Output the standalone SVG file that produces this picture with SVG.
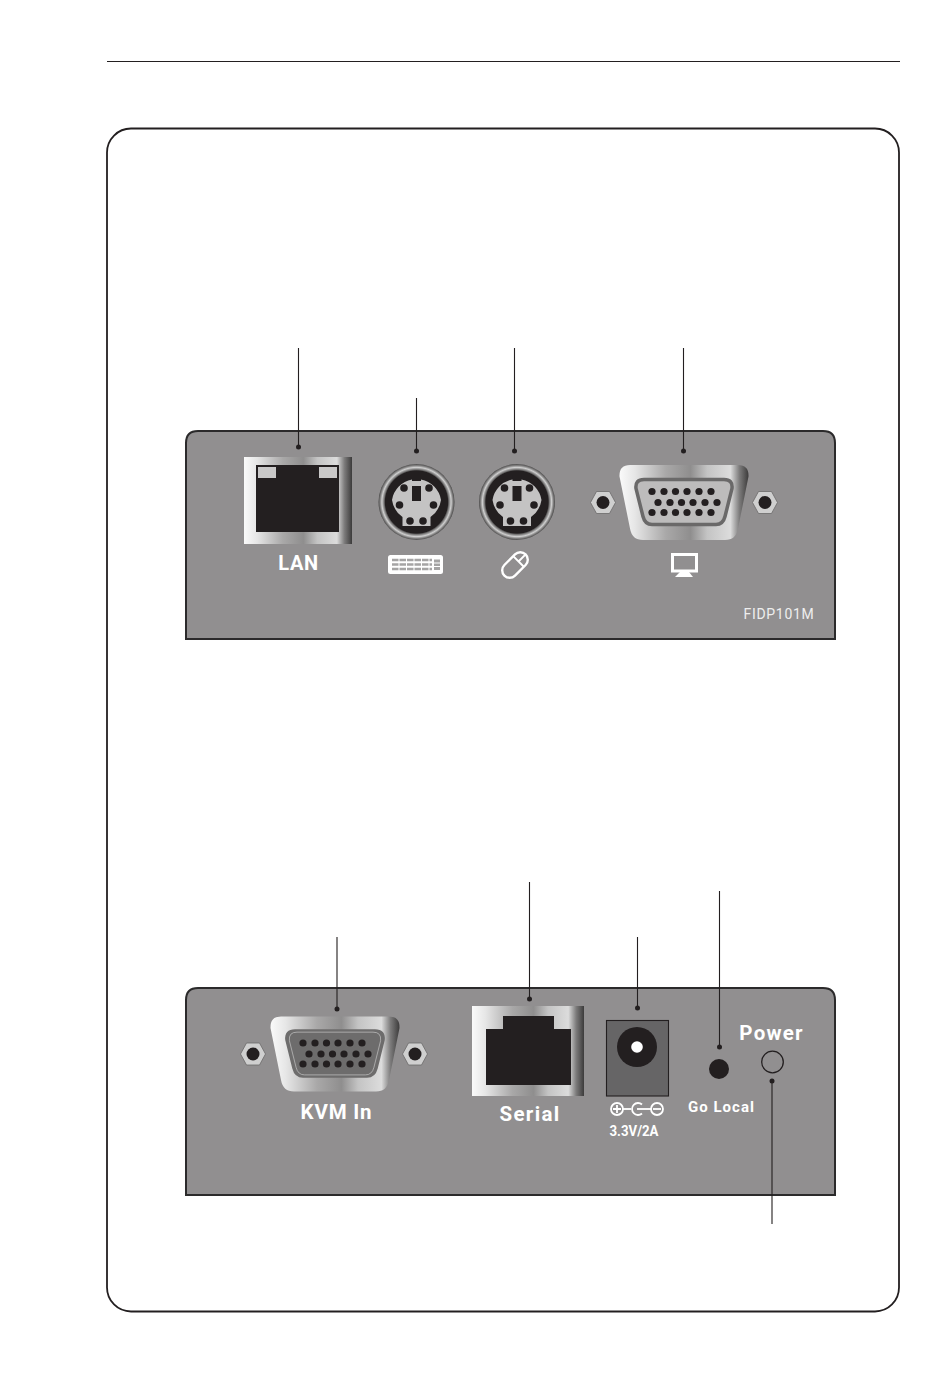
<svg xmlns="http://www.w3.org/2000/svg" xmlns:xlink="http://www.w3.org/1999/xlink" width="950" height="1393" viewBox="0 0 950 1393">
<style>
.panel{fill:#918f90;stroke:#2b2a2b;stroke-width:2}
.lead{stroke:#231f20;stroke-width:1.1;fill:none}
.dot{fill:#231f20}
.blk{fill:#231f20}
.lbl{font-family:"Roboto","Liberation Sans",sans-serif;font-weight:700;fill:#fff;text-anchor:middle}
.ico{fill:none;stroke:#fff}
</style>
<defs>
<linearGradient id="metal" x1="0" x2="1" y1="0" y2="0">
<stop offset="0" stop-color="#fafafa"/><stop offset=".12" stop-color="#e6e6e6"/><stop offset=".36" stop-color="#a9a8a8"/><stop offset=".55" stop-color="#8f8e8e"/><stop offset=".68" stop-color="#c4c4c4"/><stop offset=".86" stop-color="#dcdcdc"/><stop offset=".93" stop-color="#7c7b7b"/><stop offset="1" stop-color="#3c3b3b"/>
</linearGradient>
<radialGradient id="ring" cx=".5" cy=".5" r=".5">
<stop offset=".82" stop-color="#231f20"/><stop offset=".85" stop-color="#6e6d6d"/><stop offset=".91" stop-color="#cfcfcf"/><stop offset=".96" stop-color="#7f7e7e"/><stop offset="1" stop-color="#4a4949"/>
</radialGradient>
<g id="screw">
<polygon points="-12.5,0 -6.5,-11 6.5,-11 12.5,0 6.5,11 -6.5,11" fill="#cfcfcf" stroke="#6b6a6a" stroke-width=".8"/>
<circle r="6.5" fill="#231f20"/>
</g>
<g id="pins" fill="#231f20">
<circle cx="-32" cy="-11" r="3.6"/><circle cx="-20" cy="-11" r="3.6"/><circle cx="-8.500" cy="-11" r="3.6"/><circle cx="3" cy="-11" r="3.6"/><circle cx="15" cy="-11" r="3.6"/><circle cx="27" cy="-11" r="3.6"/>
<circle cx="-26" cy="0" r="3.6"/><circle cx="-14" cy="0" r="3.6"/><circle cx="-2.500" cy="0" r="3.6"/><circle cx="9" cy="0" r="3.6"/><circle cx="21" cy="0" r="3.6"/><circle cx="33" cy="0" r="3.6"/>
<circle cx="-32" cy="10" r="3.6"/><circle cx="-20" cy="10" r="3.6"/><circle cx="-8.500" cy="10" r="3.6"/><circle cx="3" cy="10" r="3.6"/><circle cx="15" cy="10" r="3.6"/><circle cx="27" cy="10" r="3.6"/>
</g>
<path id="vgabody" d="M-54,-37.500H54Q65,-37.500 64.500,-26L54,26Q52,37.500 41,37.500H-41Q-52,37.500 -54,26L-64.500,-26Q-65,-37.500 -54,-37.500Z" fill="url(#metal)"/>
<path id="vgashell" d="M-40,-23H40Q49,-23 48,-14L41,14Q39,22 32,22H-32Q-39,22 -41,14L-48,-14Q-49,-23 -40,-23Z"/>
<g id="ps2">
<circle r="38" fill="url(#ring)"/>
<path d="M-4.500,-22.500A25,25 0 0 0 -24.500,-2A25,25 0 0 0 -14,15V24H14V15A25,25 0 0 0 24.500,-2A25,25 0 0 0 4.500,-22.500Z" fill="#c4c3c3"/>
<rect x="-4.500" y="-16" width="9" height="15" fill="#231f20"/>
<rect x="-4.500" y="-27" width="9" height="6" fill="#231f20"/>
<circle cx="-12.500" cy="-14" r="3.800" class="dot"/><circle cx="12.500" cy="-14" r="3.800" class="dot"/>
<circle cx="-17" cy="3" r="3.800" class="dot"/><circle cx="17" cy="3" r="3.800" class="dot"/>
<circle cx="-6.500" cy="19" r="3.800" class="dot"/><circle cx="6.500" cy="19" r="3.800" class="dot"/>
</g>
</defs>
<rect width="950" height="1393" fill="#fff"/>
<g id="page-frame">
<line x1="107" y1="61.500" x2="900" y2="61.500" stroke="#231f20" stroke-width="1"/>
<rect x="107" y="128.500" width="792" height="1183" rx="24" fill="#fff" stroke="#231f20" stroke-width="1.800"/>
</g>
<g id="front-panel">
<path class="panel" d="M198,431H823Q835,431 835,443V639H186V443Q186,431 198,431Z"/>
<text x="779" y="619" font-family="Roboto,'Liberation Sans',sans-serif" font-size="14" letter-spacing=".7" fill="#eeeeee" text-anchor="middle">FIDP101M</text>
</g>
<g id="lan-port">
<rect x="244" y="457" width="108" height="87" fill="url(#metal)"/>
<rect x="256" y="465" width="83" height="67" class="blk"/>
<rect x="258" y="467" width="18" height="11" fill="#c9c8c8"/><rect x="319" y="467" width="18" height="11" fill="#c9c8c8"/>
<text class="lbl" x="298.500" y="570" font-size="20" letter-spacing=".6">LAN</text>
</g>
<g id="keyboard-port">
<use xlink:href="#ps2" href="#ps2" x="416.500" y="502"/>
<rect x="388" y="555" width="55" height="19" rx="2.500" fill="#fff"/>
<path d="M392,560H432M392,564.500H432M392,569H432" stroke="#a5a4a4" stroke-width="2.600" stroke-dasharray="6.500 1" fill="none"/>
<path d="M434,559.500H440V570H434Z" fill="#a5a4a4"/>
<path d="M434,563H440M434,566.500H440" stroke="#fff" stroke-width="1.100"/>
</g>
<g id="mouse-port">
<use xlink:href="#ps2" href="#ps2" x="517" y="502"/>
<g transform="translate(515 565) rotate(45)">
<rect x="-7.500" y="-15" width="15" height="30" rx="7.500" class="ico" stroke-width="2.400"/>
<path d="M-7.500,-5H7.500M0,-15V-5" class="ico" stroke-width="2"/>
</g>
</g>
<g id="monitor-port">
<use xlink:href="#screw" href="#screw" x="603" y="502.500"/>
<use xlink:href="#screw" href="#screw" x="765" y="502.500"/>
<g transform="translate(684 502.500)">
<use xlink:href="#vgabody" href="#vgabody"/>
<use xlink:href="#vgashell" href="#vgashell" fill="#bdbcbc" stroke="#6a6969" stroke-width="3.500"/>
<use xlink:href="#pins" href="#pins"/>
</g>
<rect x="672.500" y="554.500" width="24" height="16.500" fill="none" stroke="#fff" stroke-width="3"/>
<path d="M680,572H689L693,577H675Z" fill="#fff"/>
</g>
<g id="rear-panel">
<path class="panel" d="M198,988H823Q835,988 835,1000V1195H186V1000Q186,988 198,988Z"/>
</g>
<g id="kvm-in-port">
<use xlink:href="#screw" href="#screw" x="253" y="1054"/>
<use xlink:href="#screw" href="#screw" x="415" y="1054"/>
<g transform="translate(335 1054)">
<use xlink:href="#vgabody" href="#vgabody"/>
<use xlink:href="#vgashell" href="#vgashell" fill="#6d6c6c" stroke="#6d6c6c" stroke-width="3.500"/>
<use xlink:href="#vgashell" href="#vgashell" fill="none" stroke="#c9c8c8" stroke-width=".7" transform="scale(.95)"/>
<use xlink:href="#pins" href="#pins"/>
</g>
<text class="lbl" x="336.500" y="1119" font-size="20.500" letter-spacing=".8">KVM In</text>
</g>
<g id="serial-port">
<rect x="472" y="1006" width="112" height="90" fill="url(#metal)"/>
<path class="blk" d="M503,1016H554V1029H571V1085H486V1029H503Z"/>
<text class="lbl" x="530" y="1121" font-size="20.500" letter-spacing="1.300">Serial</text>
</g>
<g id="power-jack">
<rect x="606.500" y="1020.500" width="62" height="75.500" fill="#666566" stroke="#231f20" stroke-width="1.100"/>
<circle cx="637" cy="1047" r="20" class="blk"/>
<circle cx="637" cy="1047" r="5.800" fill="#fff"/>
<g class="ico" stroke-width="1.800">
<circle cx="617" cy="1109" r="6"/><path d="M613,1109H621M617,1105V1113"/>
<path d="M623,1109H631"/>
<path d="M642,1104.500A6,6 0 1 0 642,1113.500"/><path d="M637,1109H651"/>
<circle cx="657" cy="1109" r="6"/><path d="M653,1109H661"/>
</g>
<text class="lbl" x="634" y="1136" font-size="15" textLength="49" lengthAdjust="spacingAndGlyphs">3.3V/2A</text>
</g>
<g id="go-local">
<circle cx="719" cy="1069" r="10" class="blk"/>
<text class="lbl" x="721.500" y="1112" font-size="15" letter-spacing="1">Go Local</text>
</g>
<g id="power-led">
<circle cx="772.500" cy="1062" r="10.800" fill="none" stroke="#231f20" stroke-width="1.300"/>
<text class="lbl" x="771.500" y="1040" font-size="20.500" letter-spacing="1.200">Power</text>
</g>
<g id="connectors">
<path class="lead" d="M298.500,348V447M416.500,398V451M514.500,348V451M683.500,348V451M337,937V1009M529.500,882V999M637.500,937V1008M719.500,891V1047M772,1224V1081"/>
<circle class="dot" cx="298.500" cy="447" r="2.500"/><circle class="dot" cx="416.500" cy="451" r="2.500"/><circle class="dot" cx="514.500" cy="451" r="2.500"/><circle class="dot" cx="683.500" cy="451" r="2.500"/>
<circle class="dot" cx="337" cy="1009" r="2.500"/><circle class="dot" cx="529.500" cy="999" r="2.500"/><circle class="dot" cx="637.500" cy="1008" r="2.500"/><circle class="dot" cx="719.500" cy="1047" r="2.500"/><circle class="dot" cx="772" cy="1081" r="2.500"/>
</g>
</svg>
